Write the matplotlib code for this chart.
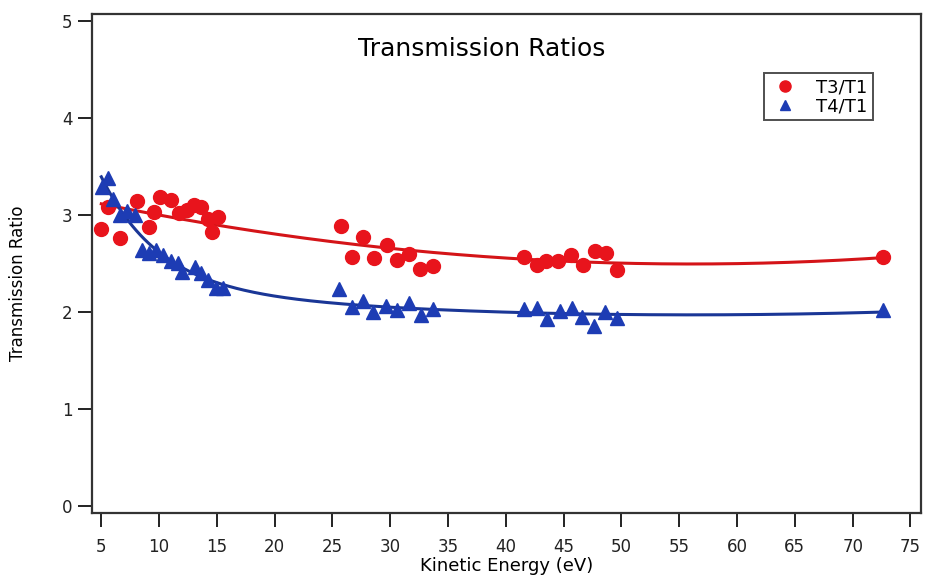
import numpy as np
import matplotlib
matplotlib.use("Agg")
import matplotlib.pyplot as plt

plt.rcParams["font.family"] = ["DejaVu Sans"]

# T3/T1 ratio vs kinetic energy
ke_t3 = [5.0, 5.6, 6.6, 8.1, 9.1, 9.6, 10.1, 11.0, 11.7, 12.4, 13.0, 13.6, 14.2, 14.6, 15.1,
         25.7, 26.7, 27.6, 28.6, 29.7, 30.6, 31.6, 32.6, 33.7,
         41.6, 42.7, 43.5, 44.5, 45.6, 46.7, 47.7, 48.7, 49.6, 72.6]
t3_t1 = [2.85, 3.08, 2.76, 3.14, 2.88, 3.03, 3.18, 3.15, 3.02, 3.05, 3.10, 3.08, 2.96, 2.82, 2.98,
         2.89, 2.57, 2.77, 2.56, 2.69, 2.53, 2.60, 2.44, 2.47,
         2.57, 2.48, 2.52, 2.52, 2.59, 2.48, 2.63, 2.61, 2.43, 2.57]

# T4/T1 ratio vs kinetic energy
ke_t4 = [5.1, 5.6, 6.0, 6.6, 7.2, 7.9, 8.5, 9.1, 9.7, 10.3, 11.0, 11.6, 12.0, 13.1, 13.6, 14.2, 14.9, 15.5,
         25.6, 26.7, 27.6, 28.5, 29.6, 30.6, 31.6, 32.7, 33.7,
         41.6, 42.7, 43.6, 44.7, 45.7, 46.6, 47.6, 48.6, 49.6, 72.6]
t4_t1 = [3.29, 3.38, 3.16, 3.00, 3.04, 3.00, 2.64, 2.61, 2.64, 2.59, 2.52, 2.50, 2.41, 2.46, 2.40, 2.33, 2.25, 2.25,
         2.24, 2.05, 2.11, 2.00, 2.06, 2.02, 2.09, 1.97, 2.03,
         2.03, 2.04, 1.93, 2.01, 2.04, 1.95, 1.86, 2.00, 1.94, 2.02]

x_ticks = [5, 10, 15, 20, 25, 30, 35, 40, 45, 50, 55, 60, 65, 70, 75]
y_ticks = [0, 1, 2, 3, 4, 5]


def fit_curve(x, y, xs, basis):
    A = np.column_stack([f(np.asarray(x, float)) for f in basis])
    coef, *_ = np.linalg.lstsq(A, np.asarray(y, float), rcond=None)
    return np.column_stack([f(xs) for f in basis]) @ coef


xs = np.linspace(5.0, 72.6, 400)
fit3 = fit_curve(ke_t3, t3_t1, xs, [np.ones_like, lambda v: v, lambda v: v ** 2])
fit4 = fit_curve(ke_t4, t4_t1, xs,
                 [np.ones_like, lambda v: np.exp(-(v - 5) / 5.0), lambda v: v, lambda v: v ** 2])

red = "#e8141c"
blue = "#1d3cb4"

fig = plt.figure(figsize=(9.25, 5.77), dpi=100)
ax = fig.add_axes([0.0995, 0.111, 0.896, 0.865])

ax.plot(xs, fit3, color="#d41418", lw=2.2, zorder=2)
ax.plot(xs, fit4, color="#1a3696", lw=2.2, zorder=2)
ax.plot(ke_t3, t3_t1, "o", color=red, ms=10, mec=red, ls="none", label="T3/T1", zorder=3)
ax.plot(ke_t4, t4_t1, "^", color=blue, ms=9.5, mec=blue, ls="none", label="T4/T1", zorder=3)

ax.set_xlim(4.2, 75.9)
ax.set_ylim(-0.07, 5.07)
ax.set_xticks(x_ticks)
ax.set_yticks(y_ticks)
ax.tick_params(direction="out", length=10, width=1.4, labelsize=12, colors="#222222")
ax.tick_params(axis="x", pad=8)
ax.tick_params(axis="y", pad=4)
for s in ax.spines.values():
    s.set_linewidth(1.6)
    s.set_color("#333333")

ax.set_xlabel("Kinetic Energy (eV)", fontsize=13, labelpad=1)
ax.set_ylabel("Transmission Ratio", fontsize=12)
ax.yaxis.set_label_coords(-0.078, 0.46)
ax.text(0.47, 0.93, "Transmission Ratios", transform=ax.transAxes,
        ha="center", va="center", fontsize=18)

leg = ax.legend(loc="upper right", bbox_to_anchor=(0.942, 0.882), borderaxespad=0,
                fontsize=13, frameon=True, fancybox=False, edgecolor="#222222",
                handletextpad=0.8, borderpad=0.3, labelspacing=0.05,
                handlelength=1.8, markerscale=0.8)
leg.get_frame().set_linewidth(1.4)

fig.savefig("out.png", dpi=100)
